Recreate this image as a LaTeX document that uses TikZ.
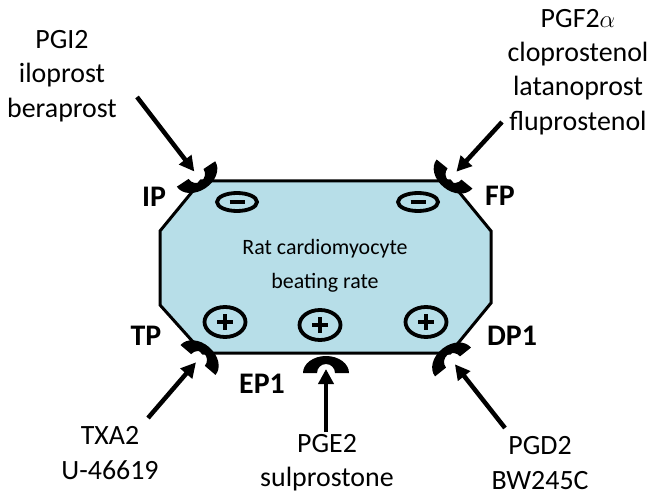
\documentclass[tikz,border=0pt]{standalone}
\usepackage{fontspec}
\setmainfont{Carlito}
\usetikzlibrary{arrows.meta}
\definecolor{cellblue}{RGB}{183,222,232}
\begin{document}
\begin{tikzpicture}[x=1bp,y=-1bp,
  txt/.style={font=\fontsize{28}{34.5}\selectfont, align=center, inner sep=0pt},
  intxt/.style={font=\fontsize{22}{34}\selectfont, align=center, inner sep=0pt},
  rlabel/.style={font=\bfseries\fontsize{30}{36}\selectfont, inner sep=0pt},
  arr/.style={line width=4.5bp, -{Triangle[length=15bp,width=15bp]}},
  cup/.pic={\fill (-23,0) arc[start angle=180,end angle=0,x radius=23bp,y radius=17bp] -- (9,0) arc[start angle=0,end angle=180,radius=9bp] -- cycle;},
  minussym/.pic={\draw[line width=3.8bp] (0,0) ellipse[x radius=20bp,y radius=9bp];
                 \draw[line width=4.5bp] (-7.5,0) -- (7.5,0);},
  plussym/.pic={\draw[line width=3.8bp] (0,0) ellipse[x radius=20.5bp,y radius=15bp];
                \draw[line width=3.2bp] (-8,0) -- (8,0) (0,-8) -- (0,8);}
]
\useasboundingbox (0,0) rectangle (664,497);
\fill[white] (0,0) rectangle (664,497);

% cell
\draw[line width=3bp, fill=cellblue, line join=miter]
  (201,181) -- (450,181) -- (491,231) -- (491,303) -- (450,353) -- (203,353) -- (160,305) -- (160,231) -- cycle;
\node[intxt] (cell) at (325,266) {Rat cardiomyocyte\\beating rate};

% effect symbols
\pic at (237,202) {minussym};
\pic at (418,202) {minussym};
\pic at (225,322) {plussym};
\pic at (320,325) {plussym};
\pic at (426,322) {plussym};

% receptors
\pic[rotate=213.5] at (196,174) {cup};
\pic[rotate=141] at (454.5,174) {cup};
\pic[rotate=319.5] at (198,360) {cup};
\pic[rotate=38.7] at (453,362) {cup};
\pic at (326,373) {cup};

% receptor labels
\node[rlabel] (IP) at (154,197) {IP};
\node[rlabel] (FP) at (500,196) {FP};
\node[rlabel] (TP) at (146,336) {TP};
\node[rlabel] (DP1) at (512,336) {DP1};
\node[rlabel] (EP1) at (262,384) {EP1};

% ligand texts
\node[txt] (pgi) at (62,76) {PGI2\\iloprost\\beraprost};
\node[txt] (pgf) at (578,72) {PGF2$\alpha$\\cloprostenol\\latanoprost\\fluprostenol};
\node[txt] (txa) at (110,453) {TXA2\\U-46619};
\node[txt] (pge) at (327,463) {PGE2\\sulprostone};
\node[txt] (pgd) at (540,463) {PGD2\\BW245C};

% arrow ends
\coordinate (sIP) at (137,97);   \coordinate (tIP) at (194.3,171.5);
\coordinate (sFP) at (502,122);  \coordinate (tFP) at (456.4,171.7);
\coordinate (sTP) at (148,418);  \coordinate (tTP) at (196,362.3);
\coordinate (sDP) at (505,428);  \coordinate (tDP) at (454.9,364.3);
\coordinate (sEP) at (326,432);  \coordinate (tEP) at (326,369);

\draw[arr] (sIP) -- (tIP);
\draw[arr] (sFP) -- (tFP);
\draw[arr] (sTP) -- (tTP);
\draw[arr] (sDP) -- (tDP);
\draw[arr] (sEP) -- (tEP);
\end{tikzpicture}
\end{document}
